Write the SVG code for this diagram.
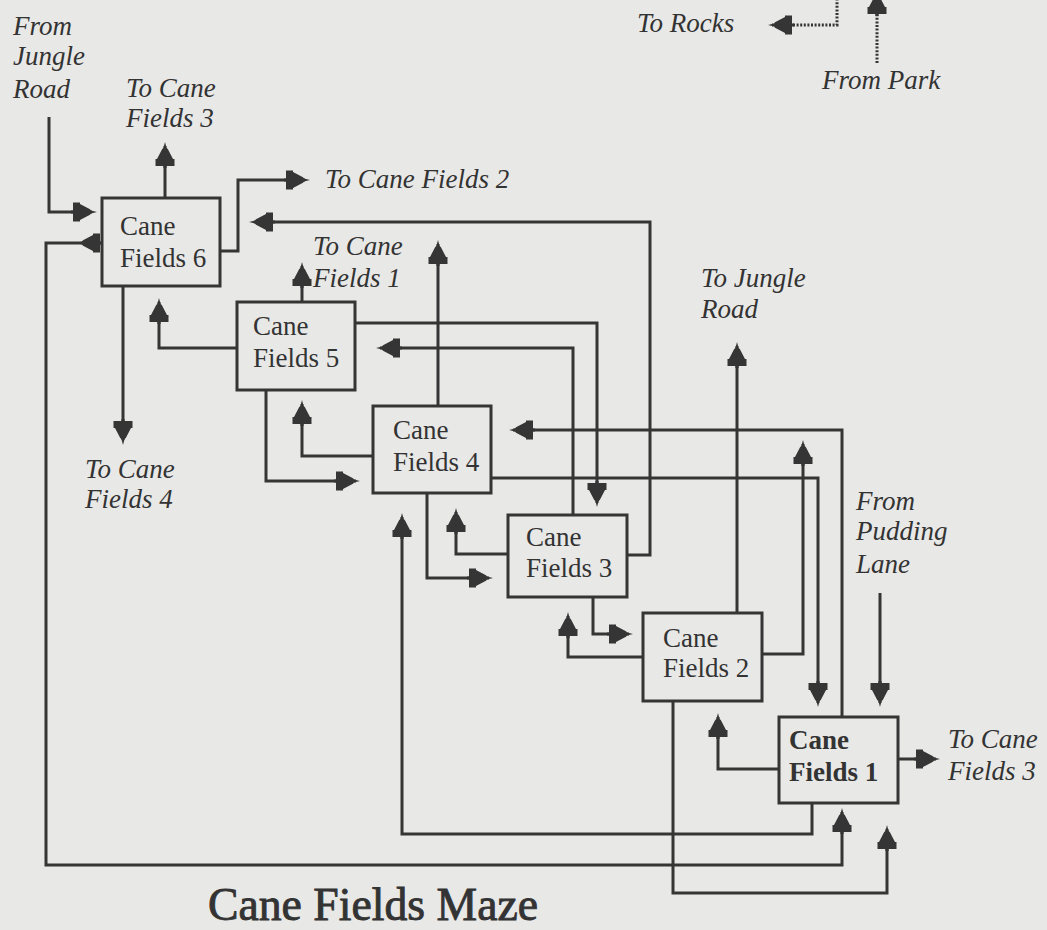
<svg xmlns="http://www.w3.org/2000/svg" xmlns:xlink="http://www.w3.org/1999/xlink" width="1047" height="930" viewBox="0 0 1047 930">
<style>
.bg{fill:#e8e8e7}
.box{fill:none;stroke:#353535;stroke-width:3}
.ln{fill:none;stroke:#353535;stroke-width:3;stroke-linejoin:miter}
.dot{fill:none;stroke:#353535;stroke-width:3;stroke-dasharray:2 1.6}
.ah{fill:#353535}
.nt{font-family:"Liberation Serif","Times New Roman",serif;font-size:27px;fill:#333}
.bold{font-weight:bold}
.lb{font-family:"Liberation Serif","Times New Roman",serif;font-style:italic;font-size:27px;fill:#333}
.title{font-family:"Liberation Serif","Times New Roman",serif;font-size:46px;fill:#333;stroke:#333;stroke-width:0.9}
</style>
<defs>
<path id="ah" class="ah" d="M0,0 L-6,-1.6 L-7,-2.8 L-17,-8 L-17,-9.5 L-24,-9.5 L-24,-1.6 L-26,-1.6 L-26,1.6 L-24,1.6 L-24,9.5 L-17,9.5 L-17,8 L-7,2.8 L-6,1.6 Z"/>
</defs>
<rect class="bg" x="0" y="0" width="1047" height="930"/>

<g id="connectors">
<path class="ln" d="M49,117 V212 H92"/>
<path class="ln" d="M165,198 V146"/>
<path class="ln" d="M220,251 H238 V180 H305"/>
<path class="ln" d="M627,555 H650 V222 H254"/>
<path class="ln" d="M102,243 H46 V865 H842 V812"/>
<path class="ln" d="M123,286 V440"/>
<path class="ln" d="M237,348 H159 V302"/>
<path class="ln" d="M302,302 V266"/>
<path class="ln" d="M438,406 V244"/>
<path class="ln" d="M355,323 H597 V503"/>
<path class="ln" d="M573,515 V348 H380"/>
<path class="ln" d="M491,478 H818 V703"/>
<path class="ln" d="M842,717 V430 H513"/>
<path class="ln" d="M812,803 V834 H402 V517"/>
<path class="ln" d="M673,701 V893 H887 V829"/>
<path class="ln" d="M427,493 V578 H489"/>
<path class="ln" d="M508,554 H456 V512"/>
<path class="ln" d="M266,390 V481 H356"/>
<path class="ln" d="M373,456 H302 V404"/>
<path class="ln" d="M593,597 V634 H629"/>
<path class="ln" d="M643,657 H568 V616"/>
<path class="ln" d="M737,613 V346"/>
<path class="ln" d="M762,654 H803 V444"/>
<path class="ln" d="M880,593 V703"/>
<path class="ln" d="M779,769 H718 V717"/>
<path class="ln" d="M898,759 H936"/>
<path class="dot" d="M877,63 V-5"/>
<path class="dot" d="M837,-5 V25 H772"/>

<use xlink:href="#ah" href="#ah" transform="translate(97,212)"/>
<use xlink:href="#ah" href="#ah" transform="translate(165,142) rotate(-90)"/>
<use xlink:href="#ah" href="#ah" transform="translate(310,180)"/>
<use xlink:href="#ah" href="#ah" transform="translate(249,222) rotate(180)"/>
<use xlink:href="#ah" href="#ah" transform="translate(76,243) rotate(180)"/>
<use xlink:href="#ah" href="#ah" transform="translate(123,445) rotate(90)"/>
<use xlink:href="#ah" href="#ah" transform="translate(159,298) rotate(-90)"/>
<use xlink:href="#ah" href="#ah" transform="translate(302,262) rotate(-90)"/>
<use xlink:href="#ah" href="#ah" transform="translate(438,240) rotate(-90)"/>
<use xlink:href="#ah" href="#ah" transform="translate(597,507) rotate(90)"/>
<use xlink:href="#ah" href="#ah" transform="translate(376,348) rotate(180)"/>
<use xlink:href="#ah" href="#ah" transform="translate(818,707) rotate(90)"/>
<use xlink:href="#ah" href="#ah" transform="translate(509,430) rotate(180)"/>
<use xlink:href="#ah" href="#ah" transform="translate(402,513) rotate(-90)"/>
<use xlink:href="#ah" href="#ah" transform="translate(842,808) rotate(-90)"/>
<use xlink:href="#ah" href="#ah" transform="translate(887,825) rotate(-90)"/>
<use xlink:href="#ah" href="#ah" transform="translate(493,578)"/>
<use xlink:href="#ah" href="#ah" transform="translate(456,508) rotate(-90)"/>
<use xlink:href="#ah" href="#ah" transform="translate(360,481)"/>
<use xlink:href="#ah" href="#ah" transform="translate(302,400) rotate(-90)"/>
<use xlink:href="#ah" href="#ah" transform="translate(633,634)"/>
<use xlink:href="#ah" href="#ah" transform="translate(568,612) rotate(-90)"/>
<use xlink:href="#ah" href="#ah" transform="translate(737,342) rotate(-90)"/>
<use xlink:href="#ah" href="#ah" transform="translate(803,440) rotate(-90)"/>
<use xlink:href="#ah" href="#ah" transform="translate(880,707) rotate(90)"/>
<use xlink:href="#ah" href="#ah" transform="translate(718,713) rotate(-90)"/>
<use xlink:href="#ah" href="#ah" transform="translate(940,759)"/>
<use xlink:href="#ah" href="#ah" transform="translate(877,-10) rotate(-90)"/>
<use xlink:href="#ah" href="#ah" transform="translate(768,25) rotate(180)"/>
</g>

<g id="cf6">
<rect class="box" x="102" y="198" width="118" height="88"/>
<text class="nt" x="120" y="235">Cane</text>
<text class="nt" x="120" y="267">Fields 6</text>
</g>
<g id="cf5">
<rect class="box" x="237" y="302" width="118" height="88"/>
<text class="nt" x="253" y="335">Cane</text>
<text class="nt" x="253" y="367">Fields 5</text>
</g>
<g id="cf4">
<rect class="box" x="373" y="406" width="118" height="87"/>
<text class="nt" x="393" y="439">Cane</text>
<text class="nt" x="393" y="471">Fields 4</text>
</g>
<g id="cf3">
<rect class="box" x="508" y="515" width="119" height="82"/>
<text class="nt" x="526" y="546">Cane</text>
<text class="nt" x="526" y="577">Fields 3</text>
</g>
<g id="cf2">
<rect class="box" x="643" y="613" width="119" height="88"/>
<text class="nt" x="663" y="647">Cane</text>
<text class="nt" x="663" y="677">Fields 2</text>
</g>
<g id="cf1">
<rect class="box" x="779" y="717" width="119" height="86"/>
<text class="nt bold" x="789" y="749">Cane</text>
<text class="nt bold" x="789" y="781">Fields 1</text>
</g>

<g id="labels">
<text class="lb" x="13" y="35">From</text>
<text class="lb" x="13" y="65">Jungle</text>
<text class="lb" x="13" y="98">Road</text>
<text class="lb" x="126" y="97">To Cane</text>
<text class="lb" x="126" y="127">Fields 3</text>
<text class="lb" x="325" y="188">To Cane Fields 2</text>
<text class="lb" x="313" y="255">To Cane</text>
<text class="lb" x="313" y="287">Fields 1</text>
<text class="lb" x="85" y="478">To Cane</text>
<text class="lb" x="85" y="508">Fields 4</text>
<text class="lb" x="637" y="32">To Rocks</text>
<text class="lb" x="822" y="89">From Park</text>
<text class="lb" x="701" y="287">To Jungle</text>
<text class="lb" x="701" y="318">Road</text>
<text class="lb" x="856" y="510">From</text>
<text class="lb" x="856" y="540">Pudding</text>
<text class="lb" x="856" y="573">Lane</text>
<text class="lb" x="948" y="748">To Cane</text>
<text class="lb" x="948" y="780">Fields 3</text>
</g>
<text class="title" x="208" y="920" textLength="330" lengthAdjust="spacingAndGlyphs">Cane Fields Maze</text>
</svg>
